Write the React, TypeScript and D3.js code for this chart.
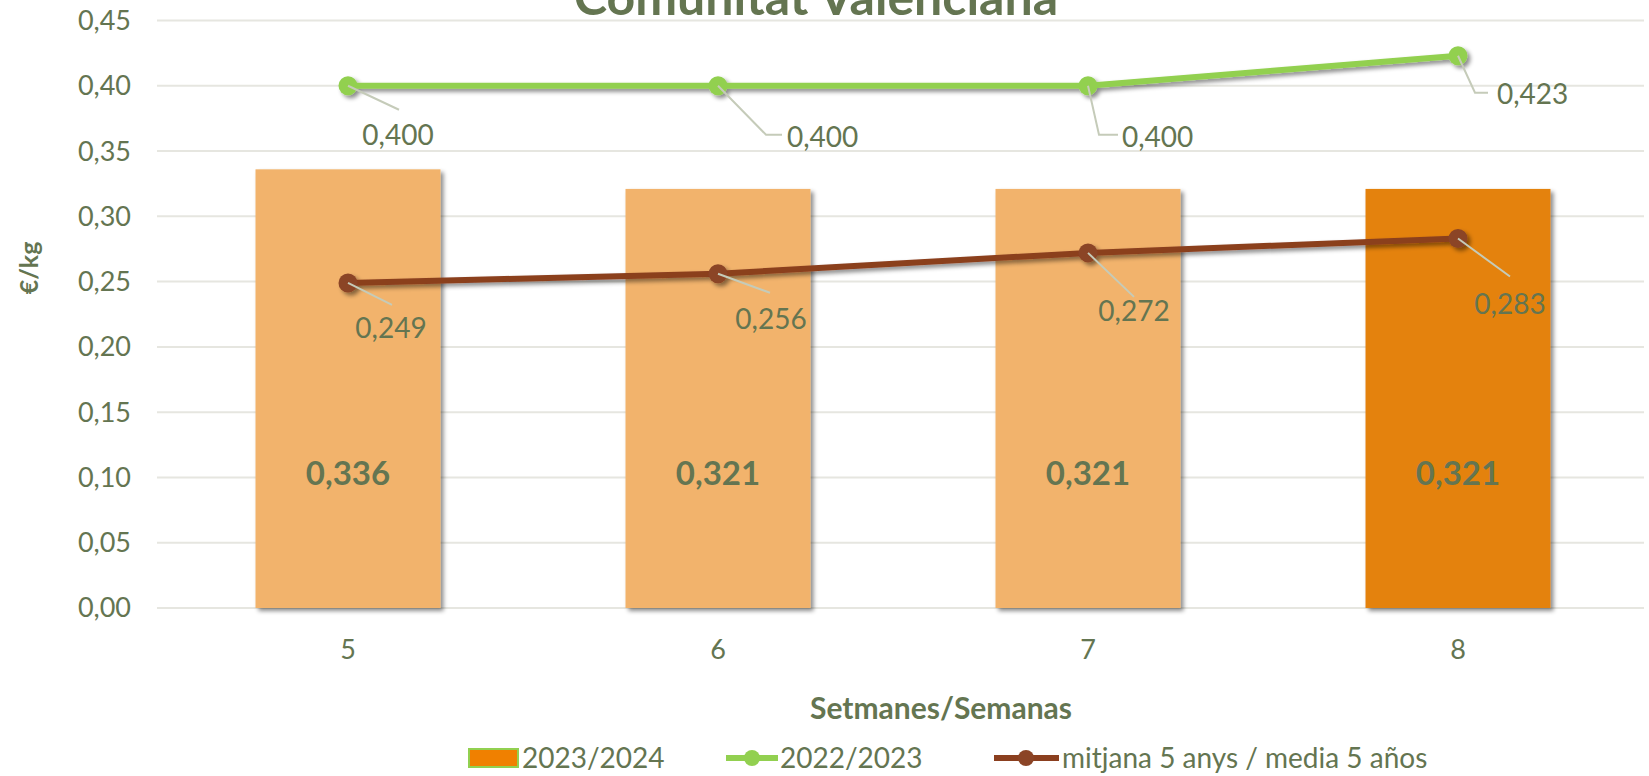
import React from 'react';
import * as d3 from 'd3';

const weeks = ['5', '6', '7', '8'];
const season2324 = [0.336, 0.321, 0.321, 0.321];
const season2223 = [0.4, 0.4, 0.4, 0.423];
const avg5y = [0.249, 0.256, 0.272, 0.283];
const yTicks = [0, 0.05, 0.1, 0.15, 0.2, 0.25, 0.3, 0.35, 0.4, 0.45];

// manual label placement (offsets from the marker, px) like in the original sheet
const greenLabelOff = [
  { lx: 51, ly: 24, tx: 50, ty: 59, anchor: 'middle', elbow: 0 },
  { lx: 48, ly: 49, tx: 69, ty: 61, anchor: 'start', elbow: 16 },
  { lx: 11, ly: 49, tx: 34, ty: 61, anchor: 'start', elbow: 19 },
  { lx: 17, ly: 37, tx: 39, ty: 48, anchor: 'start', elbow: 13 },
];
const brownLabelOff = [
  { lx: 44, ly: 22, tx: 43, ty: 55, anchor: 'middle', elbow: 0 },
  { lx: 52, ly: 19, tx: 53, ty: 55, anchor: 'middle', elbow: 0 },
  { lx: 46, ly: 44, tx: 46, ty: 68, anchor: 'middle', elbow: 0 },
  { lx: 52, ly: 38, tx: 52, ty: 75, anchor: 'middle', elbow: 0 },
];

const W = 1649;
const H = 776;
const TEXT = '#647551';
const FONT = 'Lato, "Open Sans", sans-serif';

export default function App() {
  const x = d3.scaleBand<string>().domain(weeks).range([163, 1643]).paddingInner(0.5).paddingOuter(0.25);
  const y = d3.scaleLinear().domain([0, 0.45]).range([608, 20.5]);
  const cx = (w: string) => (x(w) as number) + x.bandwidth() / 2;

  const line = d3.line<number>().x((_, i) => cx(weeks[i])).y(d => y(d));
  const fmt = (v: number) => v.toFixed(3).replace('.', ',');

  const lineLabels = (vals: number[], offs: typeof greenLabelOff, key: string) =>
    vals.map((v, i) => {
      const mx = cx(weeks[i]);
      const my = y(v);
      const o = offs[i];
      const pts = o.elbow
        ? `${mx},${my} ${mx + o.lx},${my + o.ly} ${mx + o.lx + o.elbow},${my + o.ly}`
        : `${mx},${my} ${mx + o.lx},${my + o.ly}`;
      return (
        <g key={key + i}>
          <polyline points={pts} fill="none" stroke="#c5cbb9" strokeWidth={2} />
          <text x={mx + o.tx} y={my + o.ty} textAnchor={o.anchor as any} fontSize={28} fill={TEXT}>
            {fmt(v)}
          </text>
        </g>
      );
    });

  return (
    <div>
      <style>{'body{margin:0}'}</style>
      <svg width={W} height={H} fontFamily={FONT} style={{ display: 'block' }}>
        <defs>
          <filter id="shadow" x="-10%" y="-10%" width="130%" height="130%">
            <feDropShadow dx="3" dy="3" stdDeviation="2" floodColor="#000" floodOpacity="0.45" />
          </filter>
        </defs>
        <rect width={W} height={H} fill="#fff" />

        {/* gridlines */}
        {yTicks.map(t => (
          <line key={t} x1={157} x2={1644} y1={y(t)} y2={y(t)} stroke="#e6e6e0" strokeWidth={2} />
        ))}

        {/* y tick labels */}
        {yTicks.map(t => (
          <text key={'yt' + t} x={131} y={y(t)} dy="0.35em" textAnchor="end" fontSize={27} fill={TEXT}>
            {t.toFixed(2).replace('.', ',')}
          </text>
        ))}

        {/* bars */}
        {season2324.map((v, i) => (
          <rect
            key={'b' + i}
            x={x(weeks[i])}
            y={y(v)}
            width={x.bandwidth()}
            height={y(0) - y(v)}
            fill={i === season2324.length - 1 ? '#e4820f' : '#f2b36c'}
            filter="url(#shadow)"
          />
        ))}
        {season2324.map((v, i) => (
          <text key={'bl' + i} x={cx(weeks[i])} y={y(0.103)} dy="0.35em" textAnchor="middle" fontSize={33} fontWeight="bold" fill={TEXT}>
            {fmt(v)}
          </text>
        ))}

        {/* x tick labels */}
        {weeks.map(w => (
          <text key={'xt' + w} x={cx(w)} y={650} dy="0.35em" textAnchor="middle" fontSize={27} fill={TEXT}>
            {w}
          </text>
        ))}

        {/* lines */}
        <g filter="url(#shadow)">
          <path d={line(season2223) as string} fill="none" stroke="#92d050" strokeWidth={6} />
          {season2223.map((v, i) => (
            <circle key={'g' + i} cx={cx(weeks[i])} cy={y(v)} r={9.5} fill="#92d050" />
          ))}
          <path d={line(avg5y) as string} fill="none" stroke="#8b3f1f" strokeWidth={6} />
          {avg5y.map((v, i) => (
            <circle key={'r' + i} cx={cx(weeks[i])} cy={y(v)} r={9.5} fill="#8b4426" />
          ))}
        </g>
        {lineLabels(season2223, greenLabelOff, 'gl')}
        {lineLabels(avg5y, brownLabelOff, 'rl')}

        {/* titles */}
        <text x={816} y={15} textAnchor="middle" fontSize={50} fontWeight="bold" fill={TEXT}>
          Comunitat Valenciana
        </text>
        <text transform="translate(29,268) rotate(-90)" textAnchor="middle" dy="0.35em" fontSize={25} fontWeight="bold" fill={TEXT}>
          €/kg
        </text>
        <text x={941} y={708} textAnchor="middle" dy="0.35em" fontSize={30} fontWeight="bold" fill={TEXT}>
          Setmanes/Semanas
        </text>

        {/* legend */}
        <g fontSize={28} fill={TEXT}>
          <rect x={469} y={749} width={49} height={18} fill="#f08000" stroke="#92d050" strokeWidth={2} />
          <text x={522} y={758} dy="0.35em">2023/2024</text>
          <line x1={726} x2={778} y1={758} y2={758} stroke="#92d050" strokeWidth={6} />
          <circle cx={752} cy={758} r={8} fill="#92d050" />
          <text x={780} y={758} dy="0.35em">2022/2023</text>
          <line x1={994} x2={1059} y1={758} y2={758} stroke="#8b3f1f" strokeWidth={6} />
          <circle cx={1026} cy={758} r={8} fill="#8b4426" />
          <text x={1062} y={758} dy="0.35em">mitjana 5 anys / media 5 años</text>
        </g>
      </svg>
    </div>
  );
}
